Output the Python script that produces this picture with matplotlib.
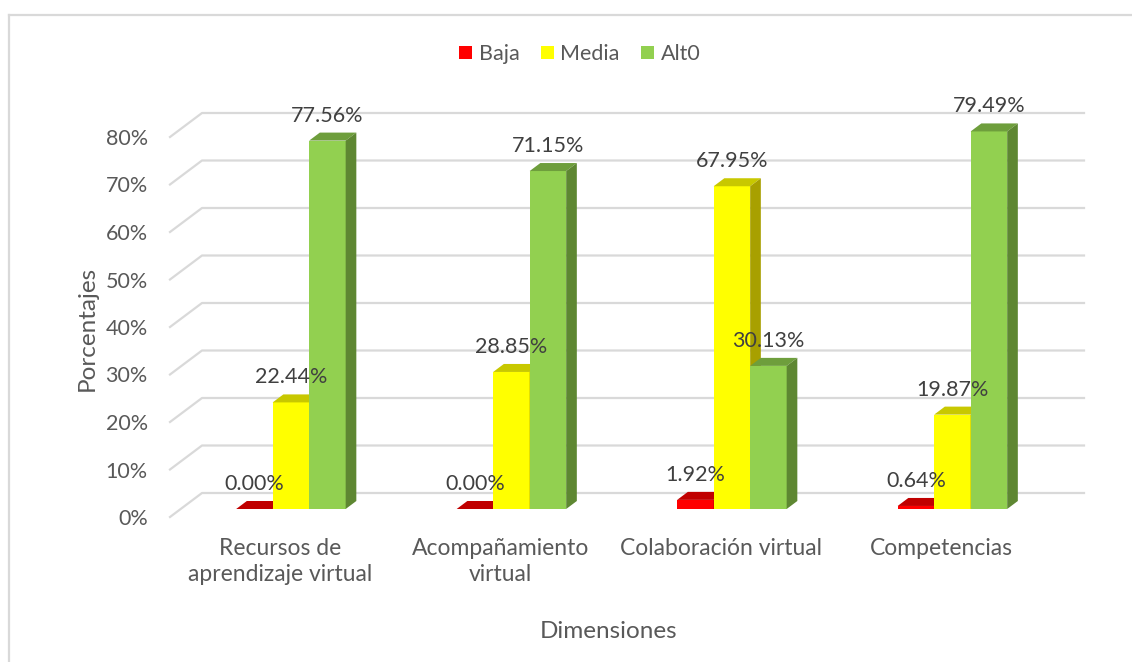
import numpy as np
import matplotlib
matplotlib.use('Agg')
import matplotlib.pyplot as plt
from matplotlib.patches import Polygon, Patch
from matplotlib.lines import Line2D

categories = ['Recursos de\naprendizaje virtual', 'Acompañamiento\nvirtual',
              'Colaboración virtual', 'Competencias']
series_names = ['Baja', 'Media', 'Alt0']
baja = [0.00, 0.00, 1.92, 0.64]
media = [22.44, 28.85, 67.95, 19.87]
alto = [77.56, 71.15, 30.13, 79.49]
yticks = [0, 10, 20, 30, 40, 50, 60, 70, 80]

front_colors = ['#FF0000', '#FFFF00', '#92D050']
top_colors = ['#C00000', '#C8C800', '#6E9E3C']
side_colors = ['#A00000', '#A8A000', '#5E8732']

plt.rcParams['font.family'] = ['Lato', 'DejaVu Sans']

W, H = 1132, 662
fig = plt.figure(figsize=(W / 100, H / 100), dpi=100)
ax = fig.add_axes([170 / W, 145 / H, 882 / W, 380 / H])
ax.set_xlim(-0.5, 3.5)
ax.set_ylim(0, 80)
for s in ax.spines.values():
    s.set_visible(False)

# pixel scale, used to fake the 3d depth
px_x = 882 / 4.0
px_y = 380 / 80.0
depth_x = 32 / px_x
depth_y = 24 / px_y
bar_w = 36.5 / px_x

# back wall + side wall gridlines
for t in yticks:
    ax.plot([-0.5, -0.5 + depth_x, 3.5 + depth_x], [t, t + depth_y, t + depth_y],
            color='#D9D9D9', lw=1.6, clip_on=False, zorder=0)

data = [baja, media, alto]
x = np.arange(len(categories))
dx = depth_x / 3
dy = depth_y / 3
base = dy
for j, vals in enumerate(data):
    z = 2 + j
    lefts = x - bar_w / 2 + (j - 1) * bar_w + dx
    ax.bar(lefts, vals, width=bar_w, bottom=base, align='edge',
           color=front_colors[j], linewidth=0, zorder=z, clip_on=False)
    for xl, v in zip(lefts, vals):
        top = base + v
        ax.add_patch(Polygon([(xl, top), (xl + bar_w, top), (xl + bar_w + dx, top + dy), (xl + dx, top + dy)],
                             closed=True, facecolor=top_colors[j], lw=0, zorder=z, clip_on=False))
        ax.add_patch(Polygon([(xl + bar_w, base), (xl + bar_w + dx, base + dy), (xl + bar_w + dx, top + dy), (xl + bar_w, top)],
                             closed=True, facecolor=side_colors[j], lw=0, zorder=z, clip_on=False))
        ax.annotate(f'{v:.2f}%', xy=(xl + bar_w / 2, top), xytext=(0, 18),
                    textcoords='offset points', ha='center', va='center',
                    fontsize=15.5, color='#404040', zorder=10, annotation_clip=False)

ax.set_yticks(yticks)
ax.set_yticklabels([f'{t}%' for t in yticks])
ax.set_xticks(x)
ax.set_xticklabels(categories, linespacing=1.3)
ax.tick_params(axis='y', length=0, pad=16, labelsize=15.5, labelcolor='#595959')
ax.tick_params(axis='x', length=0, pad=15, labelsize=16.5, labelcolor='#595959')

fig.text(87 / W, 1 - 328 / H, 'Porcentajes', rotation=90, ha='center', va='center',
         fontsize=17.5, color='#595959')
fig.text(609 / W, 1 - 631 / H, 'Dimensiones', ha='center', va='center',
         fontsize=17.5, color='#595959')

handles = [Patch(facecolor=c, edgecolor='none') for c in front_colors]
fig.legend(handles, series_names, loc='center', bbox_to_anchor=(580 / W, 1 - 54 / H),
           ncol=3, frameon=False, fontsize=15.5, handlelength=0.6, handleheight=0.6,
           handletextpad=0.3, columnspacing=1.0, labelcolor='#595959')

# chart area border
fig.add_artist(Line2D([9 / W, 9 / W], [0, 1 - 15 / H], color='#D9D9D9', lw=1.6))
fig.add_artist(Line2D([9 / W, 1], [1 - 15 / H, 1 - 15 / H], color='#D9D9D9', lw=1.6))

fig.savefig('out.png', dpi=100)
